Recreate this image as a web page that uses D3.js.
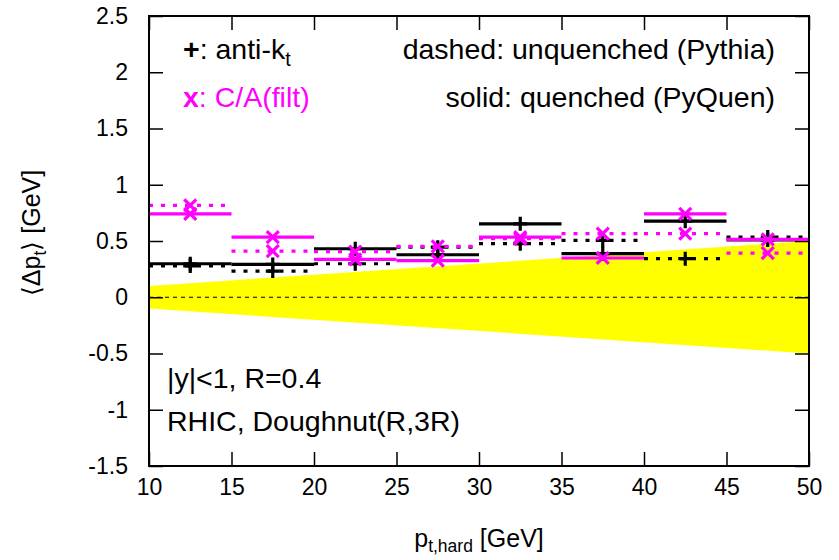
<!DOCTYPE html>
<html><head><meta charset="utf-8">
<script src="https://cdn.jsdelivr.net/npm/d3@7"></script>
<style>
body{margin:0;background:#fff;}
text{font-family:"Liberation Sans",Arial,sans-serif;}
</style></head>
<body><svg id="c" width="839" height="560"></svg>
<script>
const binEdges = [10,15,20,25,30,35,40,45,50];
const aktUnquenched = [0.278,0.233,0.298,0.445,0.476,0.505,0.343,0.535];
const aktQuenched   = [0.298,0.292,0.431,0.378,0.653,0.387,0.676,0.51];
const caUnquenched  = [0.816,0.41,0.405,0.452,0.52,0.565,0.565,0.393];
const caQuenched    = [0.742,0.535,0.337,0.325,0.535,0.349,0.742,0.514];
const bandPt   = [10,50];
const bandHalf = [0.1,0.5];
const xTicks = [10,15,20,25,30,35,40,45,50];
const yTicks = [-1.5,-1,-0.5,0,0.5,1,1.5,2,2.5];

const FS = 23, FL = 28.5, FY = 25;
const svg = d3.select("#c");
const L=149,R=809,T=16,B=466;
const x = d3.scaleLinear().domain([10,50]).range([L,R]);
const y = d3.scaleLinear().domain([-1.5,2.5]).range([B,T]);

// band
const band = bandPt.map((p,i)=>({p, h:bandHalf[i]}));
svg.append("path").datum(band)
  .attr("d", d3.area().x(d=>x(d.p)).y0(d=>y(-d.h)).y1(d=>y(d.h)))
  .attr("fill","#ffff00");

// zero line
svg.append("line").attr("x1",x(10)).attr("x2",x(50)).attr("y1",y(0)).attr("y2",y(0))
  .attr("stroke","#000").attr("stroke-width",1).attr("stroke-dasharray","4,4");

const fmt = d=> String(d);
const ax = (g)=>{g.selectAll(".domain").remove(); g.selectAll("line").attr("stroke","#000").attr("stroke-width",1.5);
  g.selectAll("text").attr("font-size",FS).attr("fill","#000").attr("font-family","Liberation Sans, Arial, sans-serif");};
svg.append("g").attr("transform",`translate(0,${B})`)
  .call(d3.axisBottom(x).tickValues(xTicks).tickSize(-14).tickPadding(13).tickFormat(fmt)).call(ax);
svg.append("g").attr("transform",`translate(0,${T})`)
  .call(d3.axisTop(x).tickValues(xTicks).tickSize(-14).tickFormat("")).call(ax);
svg.append("g").attr("transform",`translate(${L},0)`)
  .call(d3.axisLeft(y).tickValues(yTicks).tickSize(-14).tickPadding(21).tickFormat(fmt)).call(ax);
svg.append("g").attr("transform",`translate(${R},0)`)
  .call(d3.axisRight(y).tickValues(yTicks).tickSize(-14).tickFormat("")).call(ax);

function series(vals, color, dashed, marker){
  const g = svg.append("g");
  const data = vals.map((v,i)=>({x0:binEdges[i], x1:binEdges[i+1], v}));
  g.selectAll("line.h").data(data).enter().append("line")
    .attr("x1",d=>x(d.x0)).attr("x2",d=>x(d.x1)).attr("y1",d=>y(d.v)).attr("y2",d=>y(d.v))
    .attr("stroke",color).attr("stroke-width",3.2)
    .attr("stroke-dasharray", dashed ? "4,8" : null);
  const s = 7, c = 6;
  data.forEach(d=>{
    const cx = x((d.x0+d.x1)/2), cy = y(d.v);
    const p = marker==="plus"
      ? `M${cx-s},${cy}H${cx+s}M${cx},${cy-s}V${cy+s}`
      : `M${cx-c},${cy-c}L${cx+c},${cy+c}M${cx-c},${cy+c}L${cx+c},${cy-c}`;
    g.append("path").attr("d",p).attr("stroke",color).attr("stroke-width",3.2).attr("fill","none");
  });
}
series(aktUnquenched,"#000",true,"plus");
series(aktQuenched,"#000",false,"plus");
series(caUnquenched,"#ff00ff",true,"cross");
series(caQuenched,"#ff00ff",false,"cross");

// frame
svg.append("rect").attr("x",L).attr("y",T).attr("width",R-L).attr("height",B-T)
  .attr("fill","none").attr("stroke","#000").attr("stroke-width",2);

// labels
const t1 = svg.append("text").attr("x",183).attr("y",59).attr("font-size",FL);
t1.append("tspan").attr("font-weight","bold").text("+");
t1.append("tspan").text(": anti-k");
t1.append("tspan").attr("font-size",FL*0.7).attr("dy",7).text("t");
const t2 = svg.append("text").attr("x",183).attr("y",107).attr("font-size",FL).attr("fill","#ff00ff");
t2.append("tspan").attr("font-weight","bold").text("x");
t2.append("tspan").text(": C/A(filt)");
svg.append("text").attr("x",775).attr("y",59).attr("font-size",FL).attr("text-anchor","end").text("dashed: unquenched (Pythia)");
svg.append("text").attr("x",775).attr("y",107).attr("font-size",FL).attr("text-anchor","end").text("solid: quenched (PyQuen)");
svg.append("text").attr("x",167).attr("y",388).attr("font-size",FL).text("|y|<1, R=0.4");
svg.append("text").attr("x",167).attr("y",431).attr("font-size",FL).text("RHIC, Doughnut(R,3R)");

const xt = svg.append("text").attr("x",479).attr("y",547).attr("font-size",FY).attr("text-anchor","middle");
xt.append("tspan").text("p");
xt.append("tspan").attr("font-size",FY*0.7).attr("dy",5).text("t,hard");
xt.append("tspan").attr("dy",-5).text(" [GeV]");

const yt = svg.append("text").attr("transform","translate(40,233) rotate(-90)").attr("font-size",FY).attr("text-anchor","middle");
yt.append("tspan").text("\u27E8\u0394p");
yt.append("tspan").attr("font-size",FY*0.7).attr("dy",6).text("t");
yt.append("tspan").attr("dy",-6).text("\u27E9 [GeV]");
</script></body></html>
